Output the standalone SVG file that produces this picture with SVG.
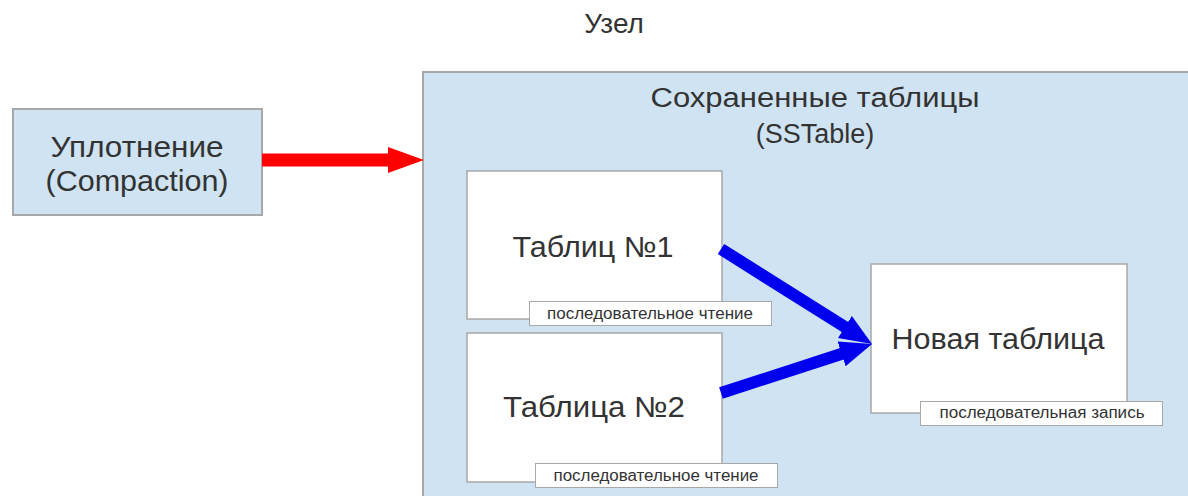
<svg xmlns="http://www.w3.org/2000/svg" width="1188" height="496" viewBox="0 0 1188 496">
<style>
text{font-family:"Liberation Sans",Arial,sans-serif;fill:#333;}
.blue{fill:#cfe3f2;stroke:#a8a8a8;stroke-width:2;}
.box{fill:#fff;stroke:#a8a8a8;stroke-width:1.5;}
.lbl{fill:#fff;stroke:#a8a8a8;stroke-width:1;}
.big{font-size:29px;text-anchor:middle;}
.small{font-size:16px;text-anchor:middle;}
</style>
<defs>
<marker id="redHead" markerUnits="userSpaceOnUse" markerWidth="40" markerHeight="30" refX="2" refY="13" orient="auto">
<path d="M0,0 L36,13 L0,26 z" fill="#ff0000"/>
</marker>
<marker id="blueHead" markerUnits="userSpaceOnUse" markerWidth="40" markerHeight="30" refX="2" refY="13" orient="auto">
<path d="M0,0 L32,13 L0,26 z" fill="#0000ee"/>
</marker>
</defs>
<rect width="1188" height="496" fill="#fff"/>
<text x="614" y="33" style="font-size:28px;text-anchor:middle">Узел</text>
<g id="sstable">
<rect class="blue" x="423" y="72" width="800" height="440"/>
<text class="big" x="815" y="107" textLength="329" lengthAdjust="spacingAndGlyphs" style="font-size:27px">Сохраненные таблицы</text>
<text class="big" x="815" y="143" style="font-size:27px">(SSTable)</text>
</g>
<g id="compaction">
<rect class="blue" x="13" y="109" width="249" height="106"/>
<text class="big" x="137" y="157" textLength="173" lengthAdjust="spacingAndGlyphs">Уплотнение</text>
<text class="big" x="137" y="191" textLength="183" lengthAdjust="spacingAndGlyphs">(Compaction)</text>
</g>
<g id="table1">
<rect class="box" x="467" y="171" width="255" height="148"/>
<text class="big" x="593" y="257" textLength="161" lengthAdjust="spacingAndGlyphs">Таблиц №1</text>
<rect class="lbl" x="529.5" y="301.5" width="242" height="24"/>
<text class="small" x="650" y="319" textLength="206" lengthAdjust="spacingAndGlyphs">последовательное чтение</text>
</g>
<g id="table2">
<rect class="box" x="467" y="333" width="255" height="149"/>
<text class="big" x="594" y="417" textLength="182" lengthAdjust="spacingAndGlyphs">Таблица №2</text>
<rect class="lbl" x="535.5" y="463.5" width="242" height="24"/>
<text class="small" x="656" y="481" textLength="205" lengthAdjust="spacingAndGlyphs">последовательное чтение</text>
</g>
<g id="newtable">
<rect class="box" x="871" y="264" width="256" height="149"/>
<text class="big" x="998" y="349" textLength="213" lengthAdjust="spacingAndGlyphs">Новая таблица</text>
<rect class="lbl" x="920.5" y="401.5" width="242" height="24"/>
<text class="small" x="1042" y="418" textLength="205" lengthAdjust="spacingAndGlyphs">последовательная запись</text>
</g>
<g id="connectors">
<line x1="262" y1="160" x2="390" y2="160" stroke="#ff0000" stroke-width="13" marker-end="url(#redHead)"/>
<line x1="721" y1="249" x2="846.6" y2="328" stroke="#0000ee" stroke-width="12" marker-end="url(#blueHead)"/>
<line x1="721" y1="393" x2="843.5" y2="353.3" stroke="#0000ee" stroke-width="12" marker-end="url(#blueHead)"/>
</g>
</svg>
